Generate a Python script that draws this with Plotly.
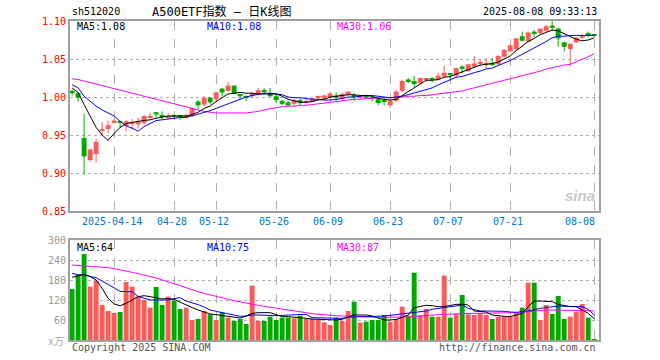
import plotly.graph_objects as go

dates = [
    "2025-04-02", "2025-04-03", "2025-04-07", "2025-04-08", "2025-04-09", "2025-04-10", "2025-04-11",
    "2025-04-14", "2025-04-15", "2025-04-16", "2025-04-17", "2025-04-18",
    "2025-04-21", "2025-04-22", "2025-04-23", "2025-04-24", "2025-04-25",
    "2025-04-28", "2025-04-29", "2025-04-30",
    "2025-05-06", "2025-05-07", "2025-05-08", "2025-05-09",
    "2025-05-12", "2025-05-13", "2025-05-14", "2025-05-15", "2025-05-16",
    "2025-05-19", "2025-05-20", "2025-05-21", "2025-05-22", "2025-05-23",
    "2025-05-26", "2025-05-27", "2025-05-28", "2025-05-29", "2025-05-30",
    "2025-06-03", "2025-06-04", "2025-06-05", "2025-06-06",
    "2025-06-09", "2025-06-10", "2025-06-11", "2025-06-12", "2025-06-13",
    "2025-06-16", "2025-06-17", "2025-06-18", "2025-06-19", "2025-06-20",
    "2025-06-23", "2025-06-24", "2025-06-25", "2025-06-26", "2025-06-27",
    "2025-06-30", "2025-07-01", "2025-07-02", "2025-07-03", "2025-07-04",
    "2025-07-07", "2025-07-08", "2025-07-09", "2025-07-10", "2025-07-11",
    "2025-07-14", "2025-07-15", "2025-07-16", "2025-07-17", "2025-07-18",
    "2025-07-21", "2025-07-22", "2025-07-23", "2025-07-24", "2025-07-25",
    "2025-07-28", "2025-07-29", "2025-07-30", "2025-07-31", "2025-08-01",
    "2025-08-04", "2025-08-05", "2025-08-06", "2025-08-07", "2025-08-08",
]

open_ = [1.008, 1.005, 0.946, 0.917, 0.925, 0.956, 0.958, 0.967, 0.968, 0.962,
         0.965, 0.964, 0.966, 0.973, 0.980, 0.975, 0.973, 0.976, 0.975, 0.974,
         0.975, 0.994, 0.990, 0.999, 0.997, 1.011, 1.008, 1.015, 1.004, 1.001,
         1.001, 1.004, 1.008, 1.005, 1.001, 0.995, 0.993, 0.991, 0.996, 0.993,
         0.994, 0.999, 0.998, 0.9995, 1.002, 0.998, 1.003, 1.002, 0.999, 1.002,
         1.000, 0.997, 0.995, 0.989, 0.995, 1.008, 1.023, 1.021, 1.018, 1.023,
         1.024, 1.023, 1.027, 1.031, 1.028, 1.040, 1.034, 1.040, 1.044, 1.043,
         1.045, 1.043, 1.053, 1.060, 1.063, 1.080, 1.073, 1.086, 1.084, 1.087,
         1.094, 1.090, 1.072, 1.063, 1.072, 1.078, 1.084, 1.082]
high = [1.010, 1.0065, 0.978, 0.932, 0.945, 0.967, 0.969, 0.971, 0.969, 0.970,
        0.971, 0.973, 0.976, 0.979, 0.980, 0.981, 0.979, 0.977, 0.977, 0.978,
        0.986, 0.996, 1.001, 1.000, 1.007, 1.012, 1.020, 1.015, 1.004, 1.002,
        1.007, 1.012, 1.012, 1.012, 1.003, 0.996, 0.995, 0.998, 0.998, 0.997,
        0.999, 1.002, 1.003, 1.007, 1.006, 1.006, 1.008, 1.005, 1.002, 1.003,
        1.001, 0.998, 0.998, 0.996, 1.009, 1.023, 1.025, 1.028, 1.026, 1.025,
        1.026, 1.032, 1.041, 1.032, 1.038, 1.042, 1.044, 1.054, 1.049, 1.051,
        1.051, 1.055, 1.063, 1.069, 1.078, 1.086, 1.086, 1.088, 1.090, 1.095,
        1.100, 1.090, 1.073, 1.070, 1.079, 1.083, 1.086, 1.083]
low = [1.002, 0.994, 0.898, 0.915, 0.914, 0.950, 0.952, 0.965, 0.959, 0.955,
       0.957, 0.958, 0.963, 0.972, 0.973, 0.971, 0.971, 0.972, 0.970, 0.972,
       0.974, 0.984, 0.988, 0.990, 0.994, 1.001, 1.007, 1.003, 0.997, 0.995,
       0.999, 1.002, 1.004, 1.000, 0.992, 0.989, 0.988, 0.988, 0.989, 0.991,
       0.993, 0.997, 0.996, 0.998, 0.994, 0.995, 1.002, 0.995, 0.998, 0.997,
       0.994, 0.989, 0.989, 0.986, 0.993, 1.006, 1.018, 1.013, 1.017, 1.020,
       1.019, 1.022, 1.026, 1.023, 1.026, 1.031, 1.033, 1.038, 1.041, 1.038,
       1.041, 1.042, 1.052, 1.060, 1.062, 1.073, 1.072, 1.079, 1.083, 1.086,
       1.087, 1.066, 1.060, 1.040, 1.071, 1.076, 1.079, 1.079]
close = [1.005, 0.999, 0.922, 0.931, 0.941, 0.958, 0.963, 0.969, 0.967, 0.968,
         0.967, 0.968, 0.975, 0.974, 0.977, 0.974, 0.974, 0.975, 0.974, 0.976,
         0.985, 0.989, 0.999, 0.993, 1.006, 1.006, 1.015, 1.004, 1.001, 1.000,
         1.005, 1.009, 1.007, 1.001, 0.996, 0.991, 0.989, 0.996, 0.992, 0.995,
         0.998, 1.000, 1.002, 1.0045, 0.999, 1.004, 1.007, 1.000, 1.001, 0.999,
         0.998, 0.992, 0.994, 0.995, 1.007, 1.021, 1.021, 1.017, 1.025, 1.024,
         1.023, 1.028, 1.032, 1.029, 1.038, 1.037, 1.043, 1.044, 1.046, 1.045,
         1.042, 1.054, 1.062, 1.068, 1.077, 1.074, 1.085, 1.083, 1.090, 1.093,
         1.091, 1.077, 1.066, 1.070, 1.078, 1.081, 1.082, 1.081]

ma5 = [1.012, 1.006, 0.990, 0.975, 0.960, 0.950, 0.943, 0.952, 0.960, 0.965,
       0.967, 0.968, 0.969, 0.970, 0.972, 0.974, 0.975, 0.975, 0.975, 0.975,
       0.977, 0.980, 0.985, 0.988, 0.994, 0.999, 1.004, 1.005, 1.006, 1.005,
       1.005, 1.004, 1.004, 1.004, 1.004, 1.001, 0.997, 0.995, 0.993, 0.993,
       0.994, 0.996, 0.997, 1.000, 1.001, 1.002, 1.003, 1.003, 1.002, 1.002,
       1.001, 0.998, 0.997, 0.996, 0.997, 1.002, 1.008, 1.012, 1.018, 1.022,
       1.022, 1.023, 1.026, 1.027, 1.030, 1.033, 1.036, 1.038, 1.042, 1.043,
       1.044, 1.046, 1.050, 1.054, 1.061, 1.067, 1.073, 1.077, 1.082, 1.085,
       1.088, 1.087, 1.083, 1.079, 1.076, 1.074, 1.075, 1.078]
ma10 = [1.016, 1.012, 1.001, 0.994, 0.988, 0.983, 0.979, 0.975, 0.968, 0.962,
        0.959, 0.955, 0.961, 0.965, 0.969, 0.970, 0.971, 0.972, 0.973, 0.973,
        0.975, 0.977, 0.980, 0.982, 0.985, 0.988, 0.992, 0.995, 0.997, 1.000,
        1.002, 1.004, 1.005, 1.005, 1.004, 1.003, 1.000, 0.999, 0.999, 0.998,
        0.997, 0.997, 0.996, 0.996, 0.997, 0.998, 1.000, 1.000, 1.001, 1.002,
        1.002, 1.001, 1.000, 0.999, 1.000, 1.001, 1.003, 1.005, 1.007, 1.009,
        1.012, 1.016, 1.019, 1.023, 1.026, 1.027, 1.030, 1.032, 1.034, 1.037,
        1.038, 1.041, 1.044, 1.048, 1.052, 1.056, 1.060, 1.064, 1.068, 1.073,
        1.078, 1.080, 1.080, 1.081, 1.081, 1.081, 1.081, 1.081]
ma30 = [1.024, 1.023, 1.021, 1.019, 1.017, 1.015, 1.013, 1.010, 1.008, 1.006,
        1.004, 1.002, 1.000, 0.998, 0.997, 0.995, 0.993, 0.991, 0.989, 0.987,
        0.985, 0.983, 0.981, 0.980, 0.979, 0.979, 0.979, 0.979, 0.979, 0.979,
        0.980, 0.981, 0.983, 0.985, 0.986, 0.987, 0.988, 0.988, 0.989, 0.989,
        0.990, 0.991, 0.992, 0.993, 0.994, 0.995, 0.996, 0.997, 0.997, 0.998,
        0.998, 0.999, 0.999, 0.999, 1.000, 1.000, 1.001, 1.001, 1.002, 1.002,
        1.003, 1.004, 1.005, 1.006, 1.007, 1.008, 1.010, 1.012, 1.014, 1.016,
        1.018, 1.020, 1.021, 1.023, 1.025, 1.027, 1.030, 1.032, 1.034, 1.037,
        1.039, 1.041, 1.042, 1.043, 1.046, 1.049, 1.053, 1.057]

volume = [153, 195, 258, 160, 178, 105, 87, 81, 84, 174,
          160, 130, 120, 97, 159, 105, 130, 118, 93, 97,
          60, 63, 87, 77, 60, 83, 67, 57, 63, 48,
          163, 57, 57, 70, 60, 67, 67, 65, 73, 63,
          63, 63, 53, 45, 67, 57, 87, 115, 52, 55,
          60, 60, 75, 55, 63, 100, 73, 202, 75, 93,
          70, 70, 193, 67, 77, 135, 77, 75, 80, 75,
          63, 70, 70, 70, 83, 97, 172, 172, 60, 105,
          78, 132, 63, 70, 85, 108, 67, 3]
vol_ma5 = [188, 193, 197, 190, 180, 155, 125, 108, 103, 110,
           120, 130, 133, 131, 127, 123, 124, 122, 113, 105,
           97, 90, 84, 78, 76, 74, 72, 69, 66, 72,
           80, 82, 83, 82, 76, 70, 70, 69, 67, 65,
           63, 62, 60, 60, 60, 62, 70, 75, 76, 75,
           72, 65, 60, 60, 62, 68, 75, 97, 101, 104,
           103, 100, 100, 104, 107, 107, 105, 87, 85, 84,
           75, 72, 71, 70, 74, 80, 100, 117, 117, 117,
           115, 107, 103, 100, 100, 90, 80, 64]
vol_ma10 = [200, 196, 195, 191, 187, 177, 167, 155, 146, 145,
            145, 131, 125, 120, 120, 120, 120, 124, 127, 117,
            112, 106, 99, 90, 86, 82, 78, 75, 71, 72,
            75, 75, 74, 73, 73, 74, 75, 76, 77, 77,
            67, 67, 66, 66, 65, 65, 68, 70, 70, 70,
            70, 70, 72, 74, 76, 78, 80, 83, 85, 87,
            92, 95, 97, 100, 103, 105, 95, 90, 87, 87,
            87, 87, 86, 84, 83, 85, 87, 90, 95, 97,
            99, 102, 101, 101, 100, 100, 92, 75]
vol_ma30 = [225, 224, 223, 222, 221, 219, 217, 214, 211, 207,
            203, 199, 195, 191, 186, 180, 175, 169, 163, 157,
            150, 145, 140, 135, 130, 126, 122, 118, 114, 110,
            107, 104, 101, 98, 95, 92, 89, 86, 83, 81,
            79, 77, 75, 74, 73, 72, 71, 70, 70, 69,
            69, 68, 68, 68, 68, 68, 69, 70, 72, 74,
            75, 76, 77, 78, 79, 80, 80, 80, 80, 80,
            80, 80, 80, 81, 82, 83, 85, 88, 89, 90,
            90, 90, 90, 90, 90, 89, 88, 87]

tick_dates = ["2025-04-14", "2025-04-28", "2025-05-12", "2025-05-26", "2025-06-09",
              "2025-06-23", "2025-07-07", "2025-07-21", "2025-08-08"]
tick_labels = ["2025-04-14", "04-28", "05-12", "05-26", "06-09",
               "06-23", "07-07", "07-21", "08-08"]
price_ticks = [0.85, 0.90, 0.95, 1.00, 1.05, 1.10]
vol_ticks = [60, 120, 180, 240, 300]

RED = "#ff5a5a"
GREEN = "#00a800"
MONO = "DejaVu Sans Mono, Noto Sans CJK SC, monospace"

W, H = 660, 360
def px(x):
    return x / W
def py(y):
    return 1 - y / H

up = [c >= o for o, c in zip(open_, close)]
colors = [RED if u else GREEN for u in up]

fig = go.Figure()

# candle bodies
min_body = 0.0013
body_h = [max(abs(c - o), min_body) for o, c in zip(open_, close)]
body_b = [min(o, c) - (bh - abs(c - o)) / 2 for o, c, bh in zip(open_, close, body_h)]
fig.add_trace(go.Bar(x=dates, y=body_h, base=body_b, marker=dict(color=colors, line=dict(width=0)),
                     width=0.82, xaxis="x", yaxis="y", hoverinfo="skip"))

# wicks
for want, col in ((True, RED), (False, GREEN)):
    wx, wy = [], []
    for d, h, l, u in zip(dates, high, low, up):
        if u == want:
            wx += [d, d, None]
            wy += [l, h, None]
    fig.add_trace(go.Scatter(x=wx, y=wy, mode="lines", line=dict(color=col, width=1),
                             xaxis="x", yaxis="y", hoverinfo="skip"))

# price MAs
for series, col in ((ma30, "#ff00ff"), (ma10, "#0000ff"), (ma5, "#000000")):
    fig.add_trace(go.Scatter(x=dates, y=series, mode="lines", line=dict(color=col, width=1),
                             xaxis="x", yaxis="y", hoverinfo="skip"))

# volume bars
fig.add_trace(go.Bar(x=dates, y=volume, marker=dict(color=colors, line=dict(width=0)),
                     width=0.82, xaxis="x2", yaxis="y2", hoverinfo="skip"))
for series, col in ((vol_ma30, "#ff00ff"), (vol_ma10, "#0000ff"), (vol_ma5, "#000000")):
    fig.add_trace(go.Scatter(x=dates, y=series, mode="lines", line=dict(color=col, width=1),
                             xaxis="x2", yaxis="y2", hoverinfo="skip"))

x_dom = [px(70), px(599)]
xcommon = dict(domain=x_dom, type="category", categoryorder="array", categoryarray=dates,
               range=[-0.35, 87.8], tickvals=tick_dates, showticklabels=False,
               showgrid=True, gridcolor="#b0b0b0", griddash="dash", gridwidth=1,
               showline=True, mirror=True, linecolor="#a0a0a0", linewidth=2,
               ticks="", zeroline=False, fixedrange=True, automargin=False)

fig.update_layout(
    width=W, height=H, margin=dict(l=0, r=0, t=0, b=0, pad=0, autoexpand=False),
    paper_bgcolor="white", plot_bgcolor="white", showlegend=False,
    barmode="overlay",
    xaxis=dict(**xcommon, anchor="y"),
    xaxis2=dict(**xcommon, anchor="y2"),
    yaxis=dict(domain=[py(211), py(21)], range=[0.85, 1.10], tickvals=price_ticks,
               ticktext=["%.2f" % v for v in price_ticks],
               tickfont=dict(family=MONO, size=10, color="#ff0000"),
               showgrid=True, gridcolor="#b0b0b0", griddash="dot", gridwidth=1,
               showline=True, mirror=True, linecolor="#a0a0a0", linewidth=2,
               ticks="", zeroline=False, anchor="x", automargin=False),
    yaxis2=dict(domain=[py(340), py(240)], range=[0, 300], tickvals=vol_ticks,
                ticktext=[str(v) for v in vol_ticks],
                tickfont=dict(family=MONO, size=10, color="#999999"),
                showgrid=True, gridcolor="#b0b0b0", griddash="dot", gridwidth=1,
                showline=True, mirror=True, linecolor="#a0a0a0", linewidth=2,
                ticks="", zeroline=False, anchor="x2", automargin=False),
)

ann = []
def text(x, y, s, color="#000000", size=10, anchor="left", family=MONO):
    ann.append(dict(x=px(x), y=py(y), xref="paper", yref="paper", text=s, showarrow=False,
                    xanchor=anchor, yanchor="middle",
                    font=dict(family=family, size=size, color=color)))

text(70, 12, "sh512020", "#000000", 10)
text(150, 12, "A500ETF指数 — 日K线图", "#000000", 12)
text(599, 12, "2025-08-08 09:33:13", "#000000", 10, "right")

text(75, 27, "MA5:%.2f" % ma5[-1], "#000000")
text(205, 27, "MA10:%.2f" % ma10[-1], "#0000ff")
text(335, 27, "MA30:%.2f" % ma30[-1], "#ff00ff")

text(75, 247, "MA5:%d" % vol_ma5[-1], "#000000")
text(205, 247, "MA10:%d" % vol_ma10[-1], "#0000ff")
text(335, 247, "MA30:%d" % vol_ma30[-1], "#ff00ff")

text(66, 341, "x万", "#aaaaaa", 10, "right")
text(70, 347, "Copyright 2025 SINA.COM", "#555555")
text(598, 347, "http://finance.sina.com.cn", "#555555", 10, "right")

# sina watermark
text(597, 195, "<b><i>sina</i></b>", "#c8c8c8", 15, "right", "Arial, Liberation Sans, sans-serif")

fig.update_layout(annotations=ann)

# date labels under the price panel
for d, lab in zip(tick_dates, tick_labels):
    last = d == tick_dates[-1]
    fig.add_annotation(x=d, y=py(221), xref="x", yref="paper", text=lab, showarrow=False,
                       xanchor="right" if last else "center", xshift=3 if last else -2,
                       yanchor="middle", font=dict(family=MONO, size=10, color="#0078d4"))

fig.write_html("out.html", config={"displayModeBar": False},
               post_script="document.body.style.margin='0';document.body.style.overflow='hidden';")
